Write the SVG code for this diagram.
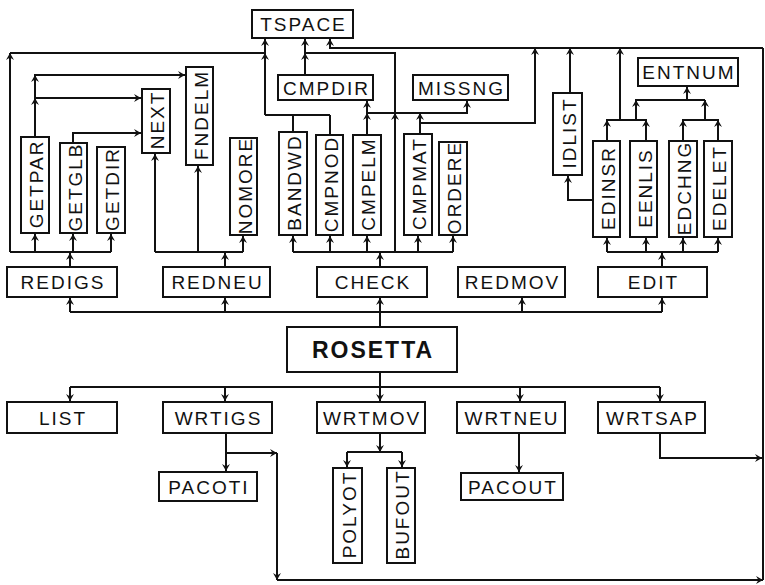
<svg xmlns="http://www.w3.org/2000/svg" width="765" height="585" viewBox="0 0 765 585">
<style>
.b{fill:#fff;stroke:#111;stroke-width:2}
.t{font-family:"Liberation Sans",Arial,sans-serif;font-size:19px;letter-spacing:2px;fill:#111;text-anchor:middle}
.r{font-family:"Liberation Sans",Arial,sans-serif;font-size:23px;font-weight:bold;letter-spacing:2px;fill:#111;text-anchor:middle}
.c{fill:none;stroke:#111;stroke-width:2}
.a{fill:none;stroke:#111;stroke-width:2;marker-end:url(#ah)}
</style>
<defs>
<marker id="ah" viewBox="-8 -5 10 10" markerWidth="10" markerHeight="10" refX="0" refY="0" orient="auto" markerUnits="userSpaceOnUse">
<path d="M0,0 L-7,-4 L-4.5,0 L-7,4 Z" fill="#111"/>
</marker>
</defs>
<rect width="765" height="585" fill="#fff"/>
<g id="connectors">
<path class="a" d="M70,267 V253"/>
<path class="c" d="M10,252 H111"/>
<path class="a" d="M35,252 V234"/><path class="a" d="M73,252 V234"/><path class="a" d="M111,252 V234"/>
<path class="a" d="M10,252 V53"/>
<path class="c" d="M10,53 H265"/>
<path class="a" d="M265,115 V39"/>
<path class="a" d="M265,59 V53"/>
<path class="a" d="M35,137 V75 H185"/>
<path class="a" d="M35,98 H141"/>
<path class="a" d="M35,104 V98"/><path class="a" d="M35,81 V75"/>
<path class="a" d="M73,143 V133 H141"/>
<path class="a" d="M225,267 V253"/>
<path class="c" d="M155,252 H243"/>
<path class="a" d="M155,252 V154"/><path class="a" d="M198,252 V166"/><path class="a" d="M243,252 V236"/>
<path class="c" d="M70,312 H662"/>
<path class="a" d="M70,312 V298"/><path class="a" d="M225,312 V298"/><path class="a" d="M380,312 V298"/><path class="a" d="M522,312 V298"/><path class="a" d="M662,312 V298"/>
<path class="c" d="M380,327 V312"/>
<path class="a" d="M380,267 V253"/>
<path class="c" d="M293,252 H453"/>
<path class="a" d="M293,252 V236"/><path class="a" d="M330,252 V236"/><path class="a" d="M367,252 V236"/><path class="a" d="M418,252 V236"/><path class="a" d="M453,252 V236"/>
<path class="c" d="M395,252 V53 H305"/>
<path class="a" d="M395,119 V113"/>
<path class="c" d="M293,132 V115"/><path class="c" d="M330,135 V115"/><path class="c" d="M265,115 H330"/>
<path class="a" d="M305,75 V39"/>
<path class="a" d="M305,59 V53"/>
<path class="a" d="M367,135 V101"/>
<path class="a" d="M367,119 V113"/>
<path class="a" d="M367,113 H467 V101"/>
<path class="a" d="M420,134 V113"/>
<path class="c" d="M420,123 H535 V48"/>
<path class="a" d="M535,54 V48"/>
<path class="a" d="M763,48 H330 V39"/>
<path class="c" d="M570,93 V48"/><path class="a" d="M570,54 V48"/>
<path class="a" d="M593,200 H568 V176"/>
<path class="a" d="M662,267 V253"/>
<path class="c" d="M607,252 H718"/>
<path class="a" d="M607,252 V238"/><path class="a" d="M646,252 V238"/><path class="a" d="M683,252 V238"/><path class="a" d="M718,252 V238"/>
<path class="c" d="M607,141 V120 H646 V141"/>
<path class="a" d="M607,126 V120"/><path class="a" d="M646,126 V120"/>
<path class="c" d="M620,120 V48"/><path class="a" d="M620,54 V48"/>
<path class="c" d="M636,120 V100 H705"/>
<path class="a" d="M636,106 V100"/><path class="a" d="M705,106 V100"/>
<path class="a" d="M687,100 V87"/>
<path class="c" d="M683,141 V120 H718 V141"/>
<path class="a" d="M683,126 V120"/><path class="a" d="M718,126 V120"/>
<path class="c" d="M705,120 V100"/>
<path class="c" d="M763,48 V580"/>
<path class="a" d="M277,580 H763"/>
<path class="c" d="M380,372 V387"/>
<path class="c" d="M70,387 H660"/>
<path class="a" d="M70,387 V401"/><path class="a" d="M225,387 V401"/><path class="a" d="M380,387 V401"/><path class="a" d="M520,387 V401"/><path class="a" d="M660,387 V401"/>
<path class="a" d="M226,433 V471"/>
<path class="a" d="M226,453 H277"/>
<path class="a" d="M277,453 V580"/>
<path class="a" d="M380,433 V452"/>
<path class="c" d="M347,452 H402"/>
<path class="a" d="M347,452 V467"/><path class="a" d="M402,452 V467"/>
<path class="a" d="M519,433 V472"/>
<path class="a" d="M660,433 V458 H762"/>
</g>
<g id="TSPACE"><rect class="b" x="252" y="10" width="101" height="28"/><text class="t" x="303.5" y="31">TSPACE</text></g>
<g id="CMPDIR"><rect class="b" x="278" y="75" width="95" height="25"/><text class="t" x="326.5" y="94.5">CMPDIR</text></g>
<g id="MISSNG"><rect class="b" x="413" y="75" width="95" height="25"/><text class="t" x="461.5" y="94.5">MISSNG</text></g>
<g id="ENTNUM"><rect class="b" x="638" y="58" width="100" height="28"/><text class="t" x="689" y="79">ENTNUM</text></g>
<g id="IDLIST"><rect class="b" x="553" y="93" width="29" height="82"/><text class="t" transform="translate(568.5,134) rotate(-90)" x="1" y="7">IDLIST</text></g>
<g id="NEXT"><rect class="b" x="142" y="89" width="28" height="64"/><text class="t" transform="translate(157,121) rotate(-90)" x="1" y="7">NEXT</text></g>
<g id="FNDELM"><rect class="b" x="186" y="67" width="27" height="98"/><text class="t" transform="translate(200.5,116) rotate(-90)" x="1" y="7">FNDELM</text></g>
<g id="GETPAR"><rect class="b" x="21" y="137" width="28" height="96"/><text class="t" transform="translate(36,185) rotate(-90)" x="1" y="7">GETPAR</text></g>
<g id="GETGLB"><rect class="b" x="60" y="143" width="27" height="90"/><text class="t" transform="translate(74.5,188) rotate(-90)" x="1" y="7">GETGLB</text></g>
<g id="GETDIR"><rect class="b" x="97" y="147" width="28" height="86"/><text class="t" transform="translate(112,190) rotate(-90)" x="1" y="7">GETDIR</text></g>
<g id="NOMORE"><rect class="b" x="230" y="138" width="27" height="97"/><text class="t" transform="translate(244.5,186.5) rotate(-90)" x="1" y="7">NOMORE</text></g>
<g id="BANDWD"><rect class="b" x="279" y="132" width="28" height="103"/><text class="t" transform="translate(294,183.5) rotate(-90)" x="1" y="7">BANDWD</text></g>
<g id="CMPNOD"><rect class="b" x="316" y="135" width="27" height="100"/><text class="t" transform="translate(330.5,185) rotate(-90)" x="1" y="7">CMPNOD</text></g>
<g id="CMPELM"><rect class="b" x="353" y="135" width="28" height="100"/><text class="t" transform="translate(368,185) rotate(-90)" x="1" y="7">CMPELM</text></g>
<g id="CMPMAT"><rect class="b" x="404" y="134" width="28" height="101"/><text class="t" transform="translate(419,184.5) rotate(-90)" x="1" y="7">CMPMAT</text></g>
<g id="ORDERE"><rect class="b" x="439" y="142" width="28" height="93"/><text class="t" transform="translate(454,188.5) rotate(-90)" x="1" y="7">ORDERE</text></g>
<g id="EDINSR"><rect class="b" x="593" y="141" width="27" height="96"/><text class="t" transform="translate(607.5,189) rotate(-90)" x="1" y="7">EDINSR</text></g>
<g id="EENLIS"><rect class="b" x="630" y="141" width="27" height="96"/><text class="t" transform="translate(644.5,189) rotate(-90)" x="1" y="7">EENLIS</text></g>
<g id="EDCHNG"><rect class="b" x="669" y="141" width="28" height="96"/><text class="t" transform="translate(684,189) rotate(-90)" x="1" y="7">EDCHNG</text></g>
<g id="EDELET"><rect class="b" x="704" y="141" width="28" height="96"/><text class="t" transform="translate(719,189) rotate(-90)" x="1" y="7">EDELET</text></g>
<g id="REDIGS"><rect class="b" x="7" y="267" width="110" height="30"/><text class="t" x="63" y="289">REDIGS</text></g>
<g id="REDNEU"><rect class="b" x="163" y="267" width="107" height="30"/><text class="t" x="217.5" y="289">REDNEU</text></g>
<g id="CHECK"><rect class="b" x="317" y="267" width="110" height="30"/><text class="t" x="373" y="289">CHECK</text></g>
<g id="REDMOV"><rect class="b" x="458" y="267" width="107" height="30"/><text class="t" x="512.5" y="289">REDMOV</text></g>
<g id="EDIT"><rect class="b" x="598" y="267" width="109" height="30"/><text class="t" x="653.5" y="289">EDIT</text></g>
<g id="ROSETTA"><rect class="b" x="287" y="327" width="170" height="45"/><text class="r" x="373" y="358">ROSETTA</text></g>
<g id="LIST"><rect class="b" x="7" y="402" width="110" height="31"/><text class="t" x="63" y="424.5">LIST</text></g>
<g id="WRTIGS"><rect class="b" x="163" y="402" width="109" height="31"/><text class="t" x="218.5" y="424.5">WRTIGS</text></g>
<g id="WRTMOV"><rect class="b" x="317" y="402" width="108" height="31"/><text class="t" x="372" y="424.5">WRTMOV</text></g>
<g id="WRTNEU"><rect class="b" x="457" y="402" width="108" height="31"/><text class="t" x="512" y="424.5">WRTNEU</text></g>
<g id="WRTSAP"><rect class="b" x="598" y="402" width="107" height="31"/><text class="t" x="652.5" y="424.5">WRTSAP</text></g>
<g id="PACOTI"><rect class="b" x="159" y="472" width="98" height="29"/><text class="t" x="209" y="493.5">PACOTI</text></g>
<g id="PACOUT"><rect class="b" x="461" y="473" width="102" height="27"/><text class="t" x="513" y="493.5">PACOUT</text></g>
<g id="POLYOT"><rect class="b" x="333" y="468" width="29" height="95"/><text class="t" transform="translate(348.5,515.5) rotate(-90)" x="1" y="7">POLYOT</text></g>
<g id="BUFOUT"><rect class="b" x="387" y="468" width="28" height="95"/><text class="t" transform="translate(402,515.5) rotate(-90)" x="1" y="7">BUFOUT</text></g>
</svg>
